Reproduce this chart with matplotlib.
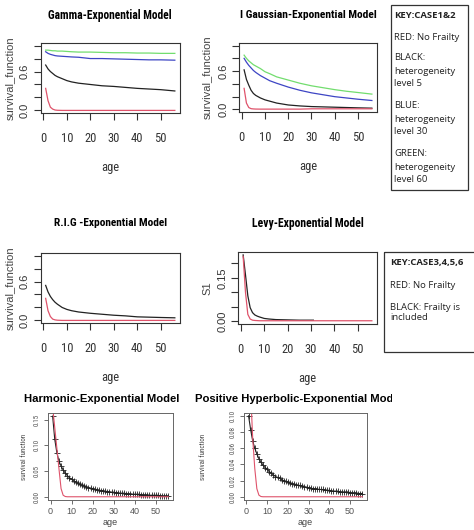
import os
import matplotlib
matplotlib.use("Agg")
import matplotlib.pyplot as plt
import matplotlib.font_manager as fm
from matplotlib.font_manager import FontProperties
from matplotlib.patches import Rectangle
from matplotlib.transforms import Bbox, TransformedBbox

# ---------------- data ----------------
ages = [1, 2, 3, 4, 5, 6, 8, 10, 12, 15, 20, 25, 30, 35, 40, 45, 50, 56]

gamma_green = [0.93, 0.93, 0.925, 0.92, 0.92, 0.915, 0.915, 0.91, 0.905, 0.90, 0.90, 0.895, 0.89, 0.89, 0.885, 0.885, 0.88, 0.88]
gamma_blue = [0.905, 0.88, 0.865, 0.855, 0.845, 0.84, 0.835, 0.83, 0.825, 0.82, 0.80, 0.80, 0.795, 0.79, 0.785, 0.78, 0.78, 0.775]
gamma_black = [0.70, 0.64, 0.60, 0.57, 0.54, 0.52, 0.49, 0.46, 0.44, 0.42, 0.40, 0.38, 0.37, 0.355, 0.34, 0.33, 0.32, 0.30]
gamma_red = [0.34, 0.15, 0.05, 0.02, 0.006, 0.002, 0.0, 0.0, 0.0, 0.0, 0.0, 0.0, 0.0, 0.0, 0.0, 0.0, 0.0, 0.0]

ig_green = [0.85, 0.80, 0.76, 0.73, 0.70, 0.68, 0.64, 0.59, 0.56, 0.51, 0.46, 0.41, 0.37, 0.34, 0.31, 0.285, 0.265, 0.24]
ig_blue = [0.80, 0.74, 0.69, 0.65, 0.61, 0.58, 0.53, 0.49, 0.45, 0.41, 0.35, 0.30, 0.26, 0.23, 0.20, 0.18, 0.16, 0.14]
ig_black = [0.62, 0.47, 0.38, 0.30, 0.25, 0.22, 0.18, 0.15, 0.13, 0.10, 0.07, 0.055, 0.045, 0.04, 0.035, 0.03, 0.025, 0.02]
ig_red = [0.33, 0.10, 0.03, 0.012, 0.008, 0.006, 0.005, 0.005, 0.005, 0.005, 0.005, 0.005, 0.01, 0.01, 0.01, 0.01, 0.01, 0.01]

rig_black = [0.54, 0.44, 0.37, 0.32, 0.28, 0.25, 0.20, 0.17, 0.15, 0.13, 0.11, 0.095, 0.08, 0.07, 0.055, 0.05, 0.045, 0.04]
rig_red = [0.34, 0.15, 0.06, 0.02, 0.008, 0.003, 0.0, 0.0, 0.0, 0.0, 0.0, 0.0, 0.0, 0.0, 0.0, 0.0, 0.0, 0.0]

levy_black_ages = [1, 2, 3, 4, 5, 6, 7, 8, 10, 12, 15, 20, 25, 31]
levy_black = [0.229, 0.16, 0.088, 0.047, 0.03, 0.022, 0.018, 0.015, 0.01, 0.008, 0.006, 0.005, 0.004, 0.004]
levy_red = [0.224, 0.10, 0.024, 0.008, 0.004, 0.003, 0.002, 0.002, 0.002, 0.002, 0.002, 0.002, 0.002, 0.002, 0.002, 0.002, 0.002, 0.002]

ages_full = list(range(1, 57))
harm_black = [0.157, 0.112, 0.086, 0.069, 0.060, 0.052, 0.046, 0.041, 0.037, 0.034,
              0.031, 0.029, 0.026, 0.024, 0.022, 0.021, 0.019, 0.018, 0.017, 0.016,
              0.015, 0.014, 0.013, 0.012, 0.012, 0.011, 0.010, 0.010, 0.009, 0.009,
              0.008, 0.008, 0.007, 0.007, 0.007, 0.006, 0.006, 0.006, 0.005, 0.005,
              0.005, 0.005, 0.004, 0.004, 0.004, 0.004, 0.003, 0.003, 0.003, 0.003,
              0.003, 0.002, 0.002, 0.002, 0.002, 0.002]
harm_red_ages = [1, 2, 3, 4, 5, 6, 7, 8, 56]
harm_red = [0.175, 0.135, 0.095, 0.055, 0.016, 0.003, 0.0005, 0.0, 0.0]

phyp_black = [0.100, 0.083, 0.069, 0.060, 0.053, 0.047, 0.043, 0.039, 0.036, 0.034,
              0.031, 0.029, 0.027, 0.025, 0.024, 0.023, 0.021, 0.020, 0.019, 0.018,
              0.017, 0.016, 0.016, 0.015, 0.014, 0.014, 0.013, 0.012, 0.012, 0.011,
              0.011, 0.010, 0.010, 0.010, 0.009, 0.009, 0.009, 0.008, 0.008, 0.008,
              0.007, 0.007, 0.007, 0.007, 0.006, 0.006, 0.006, 0.006, 0.006, 0.005,
              0.005, 0.005, 0.005, 0.004, 0.004, 0.004]
phyp_red_ages = [1, 2, 3, 4, 5, 6, 7, 8, 56]
phyp_red = [0.16, 0.13, 0.072, 0.035, 0.01, 0.002, 0.0003, 0.0, 0.0]

x_ticks = [0, 10, 20, 30, 40, 50]
top_titles = ["Gamma-Exponential Model", "I Gaussian-Exponential Model",
              "R.I.G -Exponential Model", "Levy-Exponential Model"]
bottom_titles = ["Harmonic-Exponential Model", "Positive Hyperbolic-Exponential Model"]
key1_lines = ["KEY:CASE1&2", "RED: No Frailty", "BLACK:", "heterogeneity", "level 5",
              "BLUE:", "heterogeneity", "level 30", "GREEN:", "heterogeneity", "level 60"]
key2_lines = ["KEY:CASE3,4,5,6", "RED: No Frailty", "BLACK: Frailty is", "included"]

# ---------------- fonts ----------------
def find_condensed(bold):
    prefs = ["Liberation Sans Narrow", "Arial Narrow", "Roboto Condensed",
             "Open Sans Condensed", "Noto Sans", "DejaVu Sans", "Liberation Sans"]
    found = {}
    for f in fm.fontManager.ttflist:
        base = os.path.basename(f.fname)
        nm = f.name + " " + base
        cond = ("Narrow" in nm or "Condensed" in nm or
                str(f.stretch) in ("condensed", "semi-condensed"))
        if not cond or "Extra" in base or "Semi" in base or "Ultra" in base:
            continue
        if f.style != "normal" or "Italic" in base or "Oblique" in base:
            continue
        w = f.weight if isinstance(f.weight, int) else {"bold": 700, "normal": 400, "regular": 400}.get(str(f.weight), 400)
        if bold and w < 600:
            continue
        if not bold and (w < 350 or w > 500):
            continue
        for i, p in enumerate(prefs):
            if f.name.startswith(p):
                if i not in found:
                    found[i] = f.fname
                break
    if found:
        return FontProperties(fname=found[min(found)])
    return FontProperties(family=["Liberation Sans", "DejaVu Sans"],
                          weight="bold" if bold else "normal")


NB = find_condensed(True)
NR = find_condensed(False)

RED = "#df536b"
BLACK = "#222222"
BLUE = "#3d45c4"
GREEN = "#72dd6e"
SANS = ["Liberation Sans", "DejaVu Sans"]
KEYF = ["Open Sans", "Noto Sans", "DejaVu Sans"]

W, H = 474, 530
fig = plt.figure(figsize=(W / 100, H / 100), dpi=100)
fig.patch.set_facecolor("white")
fit_list = []  # (text, target_px)


def axes_at(x0, y0, x1, y1):
    ax = fig.add_axes([x0 / W, 1 - y1 / H, (x1 - x0) / W, (y1 - y0) / H])
    ax._px = (x0, y0, x1, y1)
    return ax


def to_ax(ax, px, py):
    x0, y0, x1, y1 = ax._px
    return (px - x0) / (x1 - x0), (y1 - py) / (y1 - y0)


def style_top(ax, title, title_y, title_w, ylab, ylab_x, yticks, ylabels, ylim):
    ax.set_xlim(-1.2, 58.2)
    ax.set_ylim(*ylim)
    ax.set_xticks(x_ticks)
    labs = ax.set_xticklabels([str(t) for t in x_ticks], fontproperties=NR)
    for l in labs:
        l.set_fontsize(9)
    ax.set_yticks(yticks)
    ax.set_yticklabels(ylabels, rotation=90, va="center", fontsize=8, family=SANS)
    ax.tick_params(axis="x", length=5, width=0.8, pad=9, colors="#333333")
    ax.tick_params(axis="y", length=5, width=0.8, pad=2.5, colors="#333333")
    for s in ax.spines.values():
        s.set_linewidth(0.8)
        s.set_color("#333333")
    tx, ty = to_ax(ax, 0, title_y)
    t = ax.set_title(title, y=ty, va="center", fontproperties=NB, pad=0)
    t.set_fontsize(10)
    fit_list.append((t, title_w))
    xl = ax.set_xlabel("age", fontproperties=NR, color="#333333")
    xl.set_fontsize(9)
    ax.xaxis.set_label_coords(0.5, to_ax(ax, 0, ax._px[3] + 48)[1])
    ax.set_ylabel(ylab, fontsize=8.0, family=SANS, color="#444444")
    # y label anchor is the right edge of the rotated text
    ax.yaxis.set_label_coords(to_ax(ax, ylab_x + 5, 0)[0], 0.5)


lw = 0.9
# Panel 1: Gamma
ax1 = axes_at(40.5, 43, 180, 113)
ax1.plot(ages, gamma_green, color=GREEN, lw=lw)
ax1.plot(ages, gamma_blue, color=BLUE, lw=lw)
ax1.plot(ages, gamma_black, color=BLACK, lw=lw)
ax1.plot(ages, gamma_red, color=RED, lw=lw)
ylab6 = ["0.0", "", "", "0.6", "", ""]
yt6 = [0, 0.2, 0.4, 0.6, 0.8, 1.0]
style_top(ax1, top_titles[0], 15, 124, "survival_function", 10, yt6, ylab6, (-0.04, 1.04))

# Panel 2: Inverse Gaussian
ax2 = axes_at(239, 43, 377, 112)
ax2.plot(ages, ig_green, color=GREEN, lw=lw)
ax2.plot(ages, ig_blue, color=BLUE, lw=lw)
ax2.plot(ages, ig_black, color=BLACK, lw=lw)
ax2.plot(ages, ig_red, color=RED, lw=lw)
style_top(ax2, top_titles[1], 15, 137, "survival_function", 207, yt6, ylab6, (-0.04, 1.04))

# Panel 3: RIG
ax3 = axes_at(40.5, 253, 180, 323)
ax3.plot(ages, rig_black, color=BLACK, lw=lw)
ax3.plot(ages, rig_red, color=RED, lw=lw)
style_top(ax3, top_titles[2], 223, 113, "survival_function", 10, yt6, ylab6, (-0.04, 1.04))

# Panel 4: Levy
ax4 = axes_at(238, 252, 377, 324)
ax4.plot(levy_black_ages, levy_black, color=BLACK, lw=lw)
ax4.plot(ages, levy_red, color=RED, lw=lw)
style_top(ax4, top_titles[3], 223, 112, "S1", 207,
          [0, 0.05, 0.10, 0.15, 0.20], ["0.00", "", "", "0.15", ""], (-0.0092, 0.239))


def style_bottom(ax, yticks, ylim, ylab_x):
    ax.set_xlim(-1.2, 58.2)
    ax.set_ylim(*ylim)
    ax.set_xticks(x_ticks)
    ax.set_xticklabels([str(t) for t in x_ticks], fontsize=6.5, family=SANS)
    ax.set_yticks(yticks)
    labs = ax.set_yticklabels(["%.2f" % t for t in yticks], rotation=90, va="center",
                              fontproperties=NR)
    for l in labs:
        l.set_fontsize(5)
    ax.tick_params(axis="x", length=3, width=0.6, pad=2, colors="#555555")
    ax.tick_params(axis="y", length=3, width=0.6, pad=2, colors="#555555")
    for s in ax.spines.values():
        s.set_linewidth(0.7)
        s.set_color("#666666")
    ax.set_xlabel("age", fontsize=6.5, family=SANS, color="#444444")
    ax.xaxis.set_label_coords(0.5, to_ax(ax, 0, ax._px[3] + 18)[1])
    yl = ax.set_ylabel("survival function", fontproperties=NR, color="#444444")
    yl.set_fontsize(5)
    ax.yaxis.set_label_coords(to_ax(ax, ylab_x + 3.5, 0)[0], 0.5)


# Panel 5: Harmonic
ax5 = axes_at(48, 413, 173, 500)
ax5.plot(ages_full, harm_black, color=BLACK, lw=0.8, marker="+", ms=4, mew=0.6)
ax5.plot(harm_red_ages, harm_red, color=RED, lw=0.8)
style_bottom(ax5, [0, 0.05, 0.10, 0.15], (-0.0063, 0.163), 25)

# Panel 6: Positive Hyperbolic
ax6 = axes_at(244, 413, 367, 500)
ax6.plot(ages_full, phyp_black, color=BLACK, lw=0.8, marker="+", ms=4, mew=0.6)
ax6.plot(phyp_red_ages, phyp_red, color=RED, lw=0.8)
style_bottom(ax6, [0, 0.02, 0.04, 0.06, 0.08, 0.10], (-0.004, 0.1035), 203)

# Overlay axes in pixel coordinates for keys and bottom titles
ov = fig.add_axes([0, 0, 1, 1], facecolor="none")
ov.set_xlim(0, W)
ov.set_ylim(H, 0)
ov.axis("off")

th = ov.text(102, 399, bottom_titles[0], fontsize=7, fontweight="bold",
             family=SANS, ha="center", va="center")
tp = ov.text(195, 399, bottom_titles[1], fontsize=7,
             fontweight="bold", family=SANS, ha="left", va="center")
tp.set_clip_box(TransformedBbox(Bbox.from_extents(0, 0, 392 / W, 1), fig.transFigure))
tp.set_clip_on(True)

ov.add_patch(Rectangle((391, 5), 77, 185, fill=False, lw=0.9, edgecolor="#333333"))
key1_y = [16, 38, 57, 71, 84, 106, 119, 132, 153, 167, 180]
key_texts = []
for i, (line, yy) in enumerate(zip(key1_lines, key1_y)):
    key_texts.append(ov.text(394, yy, line, fontsize=6.3, family=KEYF, ha="left", va="center",
                             fontweight="bold" if i == 0 else "normal", color="#222222"))

ov.add_patch(Rectangle((384, 252), 92, 100, fill=False, lw=0.9, edgecolor="#333333"))
key2_y = [263, 285, 307, 318]
for i, (line, yy) in enumerate(zip(key2_lines, key2_y)):
    key_texts.append(ov.text(390, yy, line, fontsize=6.3, family=KEYF, ha="left", va="center",
                             fontweight="bold" if i == 0 else "normal", color="#222222"))

# ---- fit text widths to the reference measurements ----
fig.canvas.draw()
r = fig.canvas.get_renderer()
for t, target in fit_list:
    cur = t.get_window_extent(r).width
    if cur > 0:
        t.set_fontsize(t.get_fontsize() * target / cur)
# bottom titles share one size: "Harmonic-Exponential Model" ~155 px wide
hw = th.get_window_extent(r).width
if hw > 0:
    fs = 7 * 155.0 / hw
    th.set_fontsize(fs)
    tp.set_fontsize(fs)
# key text: "heterogeneity" should be ~62 px wide
ref = key_texts[3].get_window_extent(r).width
if ref > 0:
    s = 62.0 / ref
    for t in key_texts:
        t.set_fontsize(t.get_fontsize() * s)

fig.savefig("out.png", dpi=100)
